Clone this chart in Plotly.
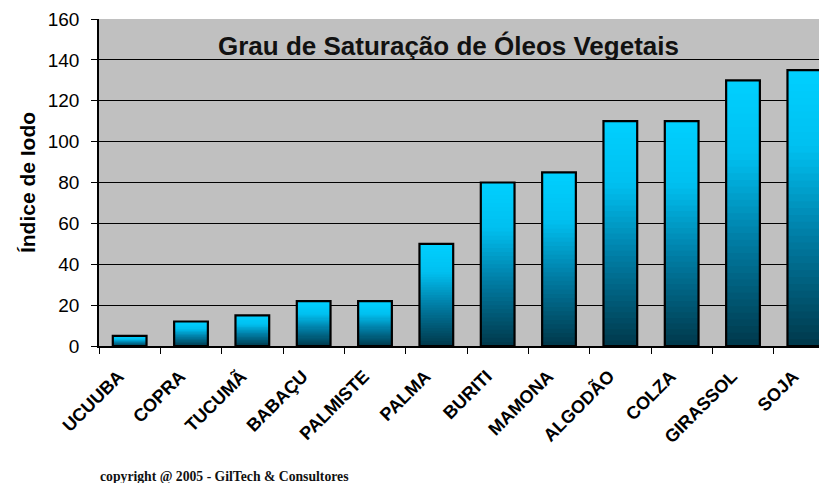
import plotly.graph_objects as go
from plotly.colors import sample_colorscale

oleos = ["UCUUBA", "COPRA", "TUCUMÃ", "BABAÇU", "PALMISTE", "PALMA",
         "BURITI", "MAMONA", "ALGODÃO", "COLZA", "GIRASSOL", "SOJA"]
indice_iodo = [5, 12, 15, 22, 22, 50, 80, 85, 110, 110, 130, 135]
y_ticks = [0, 20, 40, 60, 80, 100, 120, 140, 160]

# degradê de cada barra: escuro embaixo, ciano em cima
escala = [[0.0, "rgb(0,56,74)"], [0.4, "rgb(0,125,165)"], [0.72, "rgb(0,192,240)"], [1.0, "rgb(0,208,255)"]]
n_seg = 40
cores = sample_colorscale(escala, [(k + 0.5) / n_seg for k in range(n_seg)])

fig = go.Figure()
for k in range(n_seg):
    # segmentos um pouco sobrepostos para não aparecer frestas
    extra = 1.6 if k < n_seg - 1 else 1.0
    fig.add_trace(go.Bar(
        x=oleos,
        y=[v / n_seg * extra for v in indice_iodo],
        base=[v * k / n_seg for v in indice_iodo],
        width=0.55,
        marker=dict(color=cores[k], line=dict(width=0)),
        hoverinfo="skip", showlegend=False,
    ))

# contorno preto das barras
fig.add_trace(go.Bar(
    x=oleos, y=indice_iodo, width=0.55,
    marker=dict(color="rgba(0,0,0,0)", line=dict(color="black", width=2.2)),
    showlegend=False,
))

# a página tem 8px de margem no body, por isso l/t menores
fig.update_layout(
    width=827, height=483,
    barmode="overlay",
    paper_bgcolor="white",
    plot_bgcolor="#c0c0c0",
    margin=dict(l=91, r=0, t=11, b=145),
    font=dict(family="Liberation Sans, Arial, sans-serif", color="black"),
    annotations=[
        dict(text="<b>Grau de Saturação de Óleos Vegetais</b>", xref="paper", yref="paper",
             x=0.475, y=0.918, xanchor="center", yanchor="middle", showarrow=False,
             font=dict(size=26, color="#111")),
        dict(text="<b>copyright @ 2005 - GilTech & Consultores</b>", xref="paper", yref="paper",
             x=-0.001, y=-0.427, xanchor="left", yanchor="bottom", showarrow=False,
             font=dict(size=13.7, family="Liberation Serif, DejaVu Serif, serif", color="#111")),
    ],
)
fig.update_xaxes(
    type="category",
    automargin=False,
    tickangle=-45,
    tickfont=dict(size=18, family="Liberation Sans, Arial, sans-serif"),
    ticks="outside", ticklen=6, tickwidth=1.2, tickcolor="black",
    tickson="boundaries",
    ticklabelshift=-11, ticklabelstandoff=11,
    showline=True, linecolor="black", linewidth=1.5,
    showgrid=False,
)
fig.update_yaxes(
    automargin=False,
    range=[0, 160],
    tickvals=y_ticks,
    tickfont=dict(size=19),
    ticks="outside", ticklen=6, tickcolor="black",
    ticklabelstandoff=8,
    showline=True, linecolor="black", linewidth=1.5,
    showgrid=True, gridcolor="black", gridwidth=1,
    zeroline=False,
    title=dict(text="<b>Índice de Iodo</b>", font=dict(size=21), standoff=6),
)
fig.update_xaxes(tickprefix="<b>", ticksuffix="</b>")
fig.update_yaxes(tickprefix="<b>", ticksuffix="</b>")

fig.write_html("out.html")
